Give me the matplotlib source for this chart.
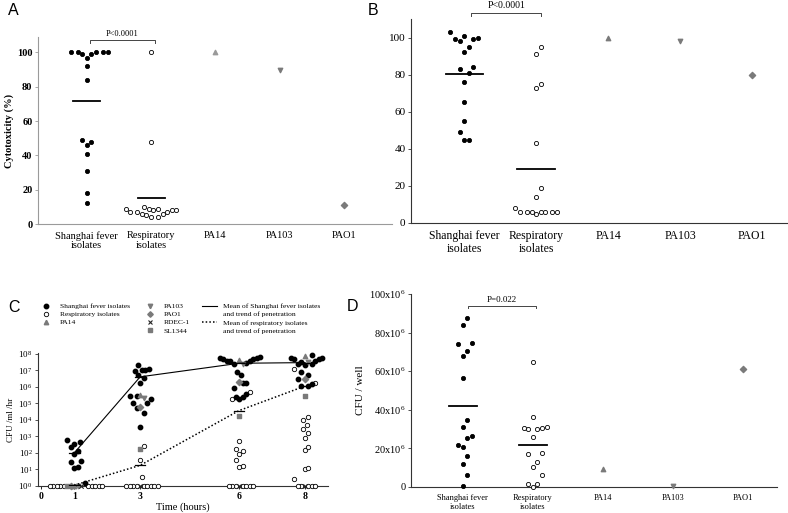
import numpy as np
import matplotlib
matplotlib.use("Agg")
import matplotlib.pyplot as plt
from matplotlib.lines import Line2D
from matplotlib.ticker import NullLocator

plt.rcParams['font.family'] = ['Liberation Serif', 'DejaVu Serif']
plt.rcParams['mathtext.fontset'] = 'custom'
plt.rcParams['mathtext.rm'] = 'Liberation Serif'
plt.rcParams['mathtext.it'] = 'Liberation Serif:italic'
plt.rcParams['mathtext.bf'] = 'Liberation Serif:bold'

groups = ['Shanghai fever\nisolates', 'Respiratory\nisolates', 'PA14', 'PA103', 'PAO1']

# A: cytotoxicity (%)
a_shanghai = [100, 100, 99, 100, 100, 99, 100, 97, 92, 84, 46, 48, 49, 41, 31, 18, 12]
a_resp = [100, 48, 9, 8, 9, 7, 8, 10, 7, 9, 8, 4, 5, 4, 6, 7, 6]
a_refs = [100, 90, 11]  # PA14, PA103, PAO1

# B: second cytotoxicity assay
b_shanghai = [65, 83, 55, 98, 84, 103, 49, 45, 81, 99, 95, 99, 45, 92, 76, 101, 100]
b_resp = [95, 91, 73, 75, 43, 19, 14, 8, 6, 6, 5, 6, 6, 6, 6, 6]
b_refs = [100, 98, 80]

# D: CFU / well (x10^6)
d_shanghai = [70.6, 6.4, 16.3, 22, 31, 83.7, 12, 25.4, 87.7, 34.8, 74, 67.8, 20.8, 56.7, 0.5, 74.7, 26.6]
d_resp = [1.4, 17.3, 36.2, 0, 30.8, 29.9, 6, 31.3, 10.6, 17.6, 1.4, 64.7, 30.8, 29.9, 26, 13]
d_refs = [9.2, 0.5, 61]

# C: log10 CFU/ml/hr at each time point
c_times = [1, 3, 6, 8]
c_shanghai = [
    [0.2, 1.08, 1.16, 1.44, 1.54, 1.96, 2.14, 2.36, 2.54, 2.64, 2.76],
    [3.56, 4.44, 4.74, 5.0, 5.04, 5.24, 5.44, 5.46, 6.2, 6.54, 6.74, 6.94, 7.04, 7.04, 7.06, 7.34],
    [5.24, 5.36, 5.4, 5.54, 5.9, 6.2, 6.2, 6.74, 6.9, 7.36, 7.46, 7.56, 7.56, 7.56, 7.66, 7.7, 7.76, 7.76, 7.8],
    [6.06, 6.06, 6.14, 6.48, 6.74, 6.9, 7.3, 7.36, 7.36, 7.5, 7.56, 7.66, 7.66, 7.76, 7.76, 7.94],
]
c_resp = [
    [0] * 10,
    [0] * 9 + [0.54, 1.56, 2.4],
    [0] * 7 + [1.16, 1.2, 1.6, 1.96, 2.1, 2.26, 2.74, 5.24, 5.66],
    [0] * 5 + [0.44, 1.0, 1.1, 2.2, 2.34, 2.9, 3.2, 3.44, 3.7, 4.0, 4.2, 6.2, 7.1],
]
c_pa14 = [0, 5.5, 7.6, 7.86]
c_pa103 = [0, 5.3, 7.36, 7.5]
c_pao1 = [0, 4.8, 6.26, 6.44]
c_rdec = [0, 0, 0, 0]
c_sl1344 = [0, 2.26, 4.24, 5.44]
c_mean_shanghai = [2.0, 6.6, 7.42, 7.46]
c_mean_resp = [0.05, 1.25, 4.56, 6.04]

gray = '#7a7a7a'
W, H = 788, 513


def rect(x0, x1, ytop, ybot):
    return [x0 / W, 1 - ybot / H, (x1 - x0) / W, (ybot - ytop) / H]


def swarm(ax, x0, vals, dx, dy):
    # beeswarm in pixel space with an elliptical exclusion zone
    pts = ax.transData.transform(np.column_stack([np.full(len(vals), x0), vals]))
    xc = pts[0, 0]
    placed = []
    for y in pts[:, 1]:
        for k in range(400):
            s = ((k + 1) // 2) * (1 if k % 2 else -1)
            cx = xc + s * dx / 2
            if all(((cx - px) / dx) ** 2 + ((y - py) / dy) ** 2 >= 1 for px, py in placed):
                break
        placed.append((cx, y))
    placed = np.array(placed)
    return ax.transData.inverted().transform(placed)[:, 0]


def dot_panel(ax, shanghai, resp, refs, mean_w, dx, dy, s, ref_colors):
    for i, vals, fc in [(0, shanghai, 'black'), (1, resp, 'white')]:
        v = np.sort(vals)
        xs = swarm(ax, i, v, dx, dy)
        ax.scatter(xs, v, s=s, facecolor=fc, edgecolor='black', linewidth=0.6,
                   clip_on=False, zorder=3)
        m = np.mean(vals)
        ax.plot([i - mean_w / 2, i + mean_w / 2], [m, m], color='black', lw=1.3, zorder=4)
    for j, (v, mk, c) in enumerate(zip(refs, ['^', 'v', 'D'], ref_colors)):
        ax.scatter([j + 2], [v], marker=mk, s=s * 1.1, color=c, clip_on=False, zorder=3)


def style_axes(ax, spine_color):
    for sp in ['top', 'right']:
        ax.spines[sp].set_visible(False)
    for sp in ['left', 'bottom']:
        ax.spines[sp].set_color(spine_color)
        ax.spines[sp].set_linewidth(0.8)
    ax.tick_params(axis='y', length=2.5, width=0.6, color=spine_color, pad=1.5)
    ax.tick_params(axis='x', length=0, pad=5)


def bracket(ax, x0, x1, y, dy, label, ty, fs):
    ax.plot([x0, x0, x1, x1], [y - dy, y, y, y - dy], color='#444', lw=0.7, clip_on=False)
    ax.text((x0 + x1) / 2, ty, label, ha='center', va='bottom', fontsize=fs, clip_on=False)


fig = plt.figure(figsize=(W / 100, H / 100), dpi=100)

# ---- A ----
ax = fig.add_axes(rect(38, 392, 37, 224))
ax.set_xlim(-0.76, 4.75)
ax.set_ylim(0, 109)
style_axes(ax, '#9a9a9a')
ax.set_yticks([0, 20, 40, 60, 80, 100])
ax.set_yticklabels(['0', '20', '40', '60', '80', '100'], fontsize=7.5, fontweight='bold')
ax.set_xticks(range(5), groups, fontsize=7.5, linespacing=1.1)
ax.set_ylabel('Cytotoxicity (%)', fontsize=7.5, fontweight='bold', labelpad=2)
dot_panel(ax, a_shanghai, a_resp, a_refs, 0.42, 4.6, 7, 9, ['#9a9a9a', gray, gray])
bracket(ax, 0.05, 1.06, 107, 1.6, 'P<0.0001', 108.5, 6)

# ---- B ----
ax = fig.add_axes(rect(411, 788, 19, 223))
ax.set_xlim(-0.74, 4.5)
ax.set_ylim(0, 110)
style_axes(ax, '#333333')
ax.set_yticks([0, 20, 40, 60, 80, 100])
ax.set_yticklabels(['0', '20', '40', '60', '80', '100'], fontsize=8)
ax.set_xticks(range(5), groups, fontsize=8.5, linespacing=1.1)
dot_panel(ax, b_shanghai, b_resp, b_refs, 0.52, 4.6, 16, 9, [gray, gray, gray])
bracket(ax, 0.1, 1.07, 113.3, 1.5, 'P<0.0001', 114.6, 7)

# ---- D ----
ax = fig.add_axes(rect(411, 777, 294, 487))
ax.set_xlim(-0.74, 4.49)
ax.set_ylim(0, 100)
style_axes(ax, '#333333')
ax.set_yticks([0, 20, 40, 60, 80, 100])
ax.set_yticklabels(['0'] + [r'%dx10$^{6}$' % v for v in [20, 40, 60, 80, 100]], fontsize=7.5)
ax.set_xticks(range(5), groups, fontsize=6, linespacing=1.1)
ax.set_ylabel('CFU / well', fontsize=8, labelpad=3)
dot_panel(ax, d_shanghai, d_resp, d_refs, 0.4, 4.6, 16, 9, [gray, gray, gray])
bracket(ax, 0.07, 1.04, 93.8, 1.1, 'P=0.022', 95.0, 6.5)

# ---- C ----
ax = fig.add_axes(rect(38, 328, 353, 486))
ax.set_yscale('log')
ax.set_xlim(-0.1, 8.7)
ax.set_ylim(1, 1.1e8)
style_axes(ax, '#333333')
ax.tick_params(axis='x', length=2, width=0.6, pad=2)
ax.set_yticks([10.0 ** k for k in range(9)])
ax.set_yticklabels([r'10$^{%d}$' % k for k in range(9)], fontsize=6.5)
ax.yaxis.set_minor_locator(NullLocator())
ax.set_xticks([0, 1, 3, 6, 8])
ax.set_xticklabels(['0', '1', '3', '6', '8'], fontsize=7, fontweight='bold')
ax.set_xlabel('Time (hours)', fontsize=7.5, labelpad=1)
ax.set_ylabel('CFU /ml /hr', fontsize=6.5, labelpad=2)

ref_series = [
    (c_pa14, dict(marker='^', color=gray)),
    (c_pa103, dict(marker='v', color=gray)),
    (c_pao1, dict(marker='D', color=gray)),
    (c_rdec, dict(marker='x', color='#222222', linewidth=0.8)),
    (c_sl1344, dict(marker='s', color=gray)),
]
for i, t in enumerate(c_times):
    vals, kinds = [], []
    for k, (ser, _) in enumerate(ref_series):
        vals.append(ser[i]); kinds.append(k)
    for v in sorted(c_shanghai[i]):
        vals.append(v); kinds.append('sf')
    for v in sorted(c_resp[i]):
        vals.append(v); kinds.append('resp')
    yv = 10.0 ** np.array(vals)
    xs = swarm(ax, t, yv, 3.5, 9)
    kinds = np.array(kinds, dtype=object)
    m = kinds == 'resp'
    ax.scatter(xs[m], yv[m], s=10, facecolor='white', edgecolor='black', linewidth=0.6,
               clip_on=False, zorder=3)
    m = kinds == 'sf'
    ax.scatter(xs[m], yv[m], s=10, color='black', clip_on=False, zorder=4)
    for k, (_, st) in enumerate(ref_series):
        m = np.array([kk == k for kk in kinds])
        ax.scatter(xs[m], yv[m], s=10, clip_on=False, zorder=5, **st)
    for mv in (c_mean_shanghai[i], c_mean_resp[i]):
        ax.plot([t - 0.16, t + 0.16], [10 ** mv] * 2, color='black', lw=0.9, zorder=6)

ax.plot(c_times, 10.0 ** np.array(c_mean_shanghai), color='black', lw=0.8, zorder=6)
ax.plot(c_times, 10.0 ** np.array(c_mean_resp), color='black', lw=1.1,
        ls=(0, (1, 1.4)), zorder=6)

blank = Line2D([], [], ls='none')
handles = [
    Line2D([], [], ls='none', marker='o', color='black', ms=3.2),
    Line2D([], [], ls='none', marker='o', mfc='white', mec='black', mew=0.6, ms=3.2),
    Line2D([], [], ls='none', marker='^', color=gray, ms=3.2),
    blank,
    Line2D([], [], ls='none', marker='v', color=gray, ms=3.2),
    Line2D([], [], ls='none', marker='D', color=gray, ms=2.8),
    Line2D([], [], ls='none', marker='x', color='#222222', ms=3.2, mew=0.8),
    Line2D([], [], ls='none', marker='s', color=gray, ms=3.0),
    Line2D([], [], color='black', lw=0.8),
    blank,
    Line2D([], [], color='black', lw=1.1, ls=(0, (1, 1.4))),
    blank,
]
labels = ['Shanghai fever isolates', 'Respiratory isolates', 'PA14', '',
          'PA103', 'PAO1', 'RDEC-1', 'SL1344',
          'Mean of Shanghai fever isolates', 'and trend of penetration',
          'Mean of respiratory isolates', 'and trend of penetration']
fig.legend(handles, labels, ncol=3, loc='upper left', bbox_to_anchor=(38 / W, 1 - 303 / H),
           frameon=False, fontsize=5.4, handlelength=2.1, handletextpad=0.8,
           columnspacing=1.6, labelspacing=0.25, borderpad=0, borderaxespad=0)

for lbl, x, y in [('A', 8, 3), ('B', 368, 3), ('C', 8, 300), ('D', 347, 299)]:
    fig.text(x / W, 1 - y / H, lbl, fontsize=11.5, family='Liberation Sans',
             ha='left', va='top')

fig.savefig('out.png', dpi=100)
